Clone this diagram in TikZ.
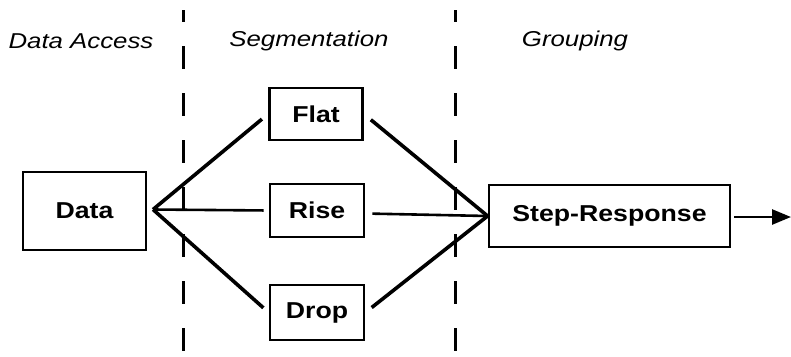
\documentclass[tikz,border=0pt]{standalone}
\usepackage{fontspec}
\setmainfont{Liberation Sans}
\newfontfamily\headfont[FakeStretch=1.2]{Liberation Sans}
\newfontfamily\blockfont[FakeStretch=1.16]{Liberation Sans}
\usetikzlibrary{arrows.meta}

\tikzset{
  block/.style={draw, line width=2.8pt, inner sep=0pt, font=\blockfont\fontsize{23}{26}\selectfont\bfseries},
  heading/.style={font=\headfont\fontsize{21.5}{26}\selectfont\itshape, inner sep=0pt},
  link/.style={line width=3.6pt},
  thinlink/.style={line width=2.6pt},
  divider/.style={line width=3pt, dash pattern=on 23pt off 24pt, dash phase=11pt},
}

\begin{document}
\begin{tikzpicture}[x=1pt, y=-1pt]
  \useasboundingbox (0,0) rectangle (791,356);

  % stage headings
  \node[heading] (hacc) at (81,41) {Data Access};
  \node[heading] (hseg) at (309,41) {Segmentation};
  \node[heading] (hgrp) at (575,41) {Grouping};

  % stage dividers
  \draw[divider] (183,10) -- (183,356);
  \draw[divider] (455,10) -- (455,356);

  % blocks
  \node[block, minimum width=123pt, minimum height=78pt] (data) at (84.5,211) {Data};
  \node[block, minimum width=93pt, minimum height=52pt] (flat) at (316,114) {Flat};
  \node[block, minimum width=94pt, minimum height=53pt] (rise) at (317,210.5) {Rise};
  \node[block, minimum width=94pt, minimum height=55pt] (drop) at (317,312.5) {Drop};
  \node[block, minimum width=241pt, minimum height=62pt] (step) at (609.5,216) {Step-Response};

  % fan-out from the data block
  \coordinate (dfan) at (153,209.5);
  \draw[link, shorten >=8pt] (dfan) -- (flat.west);
  \draw[thinlink, shorten >=5pt] (dfan) -- (rise.west);
  \draw[link, shorten >=7pt] (dfan) -- (drop.west);

  % fan-in to the grouping block
  \draw[link, shorten <=9pt] (flat.east) -- (step.west);
  \draw[thinlink, shorten <=7pt] ([yshift=-3pt]rise.east) -- (step.west);
  \draw[link, shorten <=8pt] (drop.east) -- (step.west);

  % output
  \coordinate (out) at (791,217);
  \draw[thinlink, -{Triangle[length=19pt, width=15pt]}, shorten <=3pt] (step.east |- out) -- (out);
\end{tikzpicture}
\end{document}
